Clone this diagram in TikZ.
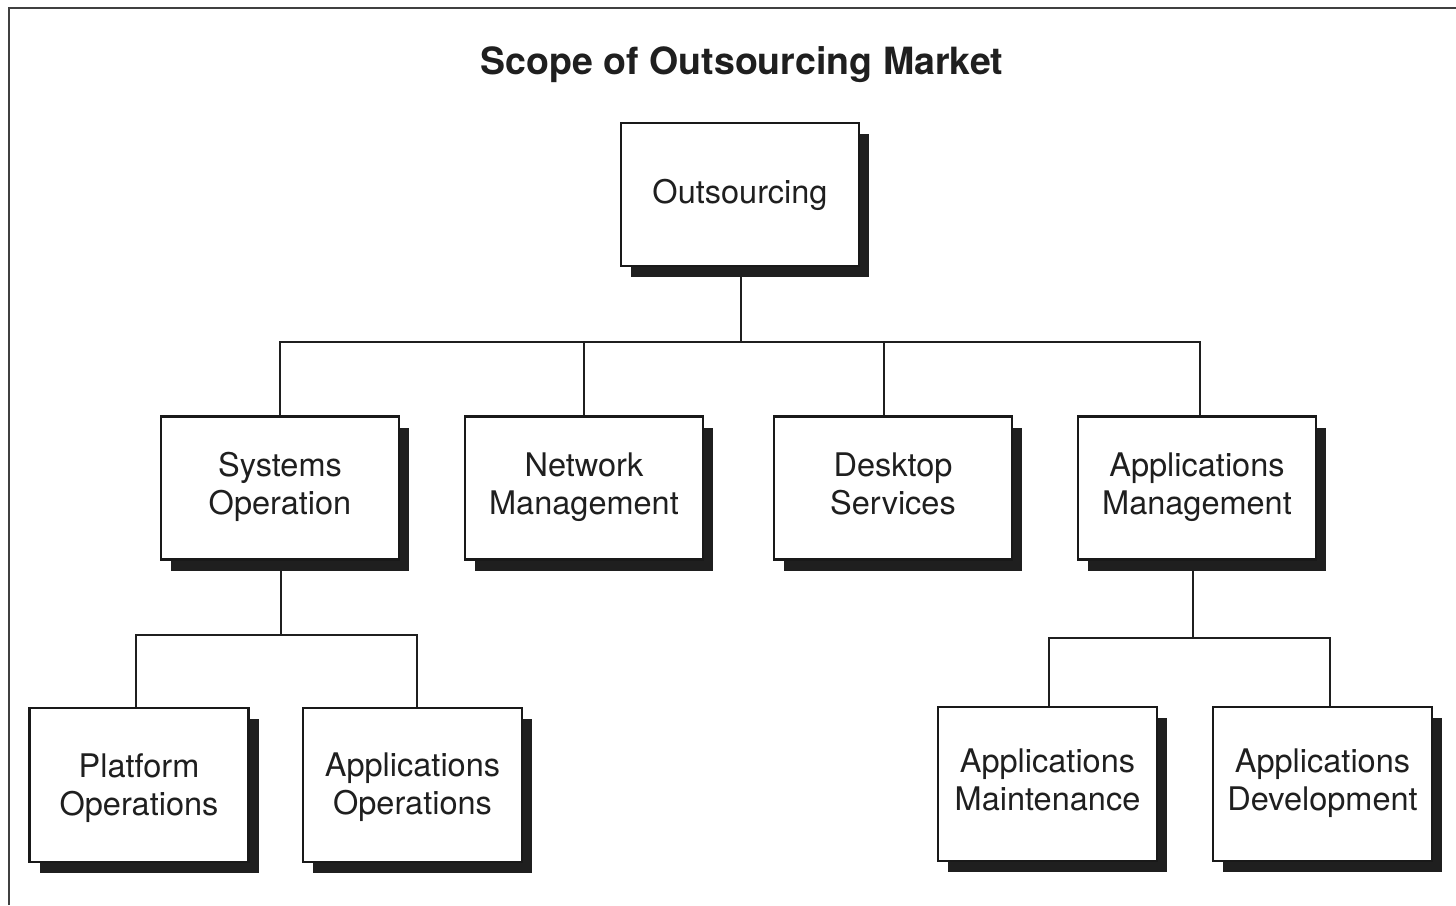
\documentclass[tikz,border=0pt]{standalone}
\usepackage{fontspec}
\setmainfont{TeX Gyre Heros}
\usetikzlibrary{shadows}
\tikzset{
  box/.style={draw=black!90, line width=2.4pt, fill=white, align=center,
    font=\fontsize{32.5}{38}\selectfont, text=black!88, inner sep=0pt,
    drop shadow={shadow xshift=10pt, shadow yshift=-11pt, fill=black!88, opacity=1}},
  boxA/.style={box, minimum width=238pt, minimum height=143pt},
  boxB/.style={box, minimum width=219pt, minimum height=154pt},
  conn/.style={draw=black!88, line width=2pt},
  frame/.style={draw=black!75, line width=2pt}
}
\begin{document}
\begin{tikzpicture}[x=1pt,y=-1pt]
\useasboundingbox (0,0) rectangle (1456,905);
\fill[white] (0,0) rectangle (1456,905);
\coordinate (fb) at (9,905);
\coordinate (fc) at (9,8);
\coordinate (fr) at (1456,8);
\draw[frame] (fb) -- (fc) -- (fr);

\node[font=\bfseries\fontsize{37.5}{40}\selectfont, text=black!88] (title) at (742,65) {Scope of Outsourcing Market};

\node[boxA] (root) at (740,194.5) {Outsourcing};

\node[boxA] (so) at (280,488) {Systems\strut\\Operation\strut};
\node[boxA] (nm) at (584,488) {Network\strut\\Management\strut};
\node[boxA] (ds) at (893,488) {Desktop\strut\\Services\strut};
\node[boxA] (am) at (1197,488) {Applications\strut\\Management\strut};

\node[boxB] (po) at (139,785) {\raisebox{-4pt}{Platform}\strut\\\raisebox{-4pt}{Operations}\strut};
\node[boxB] (ao) at (412.5,785) {\raisebox{-3pt}{Applications}\strut\\\raisebox{-3pt}{Operations}\strut};
\node[boxB] (ma) at (1047.5,784) {Applications\strut\\Maintenance\strut};
\node[boxB] (dv) at (1322.5,784) {Applications\strut\\Development\strut};

% level 1 -> level 2
\coordinate (j1) at (741,342);
\draw[conn] ([xshift=1pt]root.south) -- (j1);
\draw[conn] (so.north) |- (j1) -| ([xshift=3pt]am.north);
\draw[conn] (nm.north) -- (nm.north |- j1);
\draw[conn] ([xshift=-9pt]ds.north) -- ([xshift=-9pt]ds.north |- j1);

% systems operation -> level 3
\coordinate (j2) at (281,635);
\draw[conn] ([xshift=1pt]so.south) -- (j2);
\draw[conn] ([xshift=-3pt]po.north) |- (j2) -| ([xshift=4.5pt]ao.north);

% applications management -> level 3
\coordinate (j3) at (1193,638);
\draw[conn] ([xshift=-4pt]am.south) -- (j3);
\draw[conn] ([xshift=1.5pt]ma.north) |- (j3) -| ([xshift=7.5pt]dv.north);
\end{tikzpicture}
\end{document}
